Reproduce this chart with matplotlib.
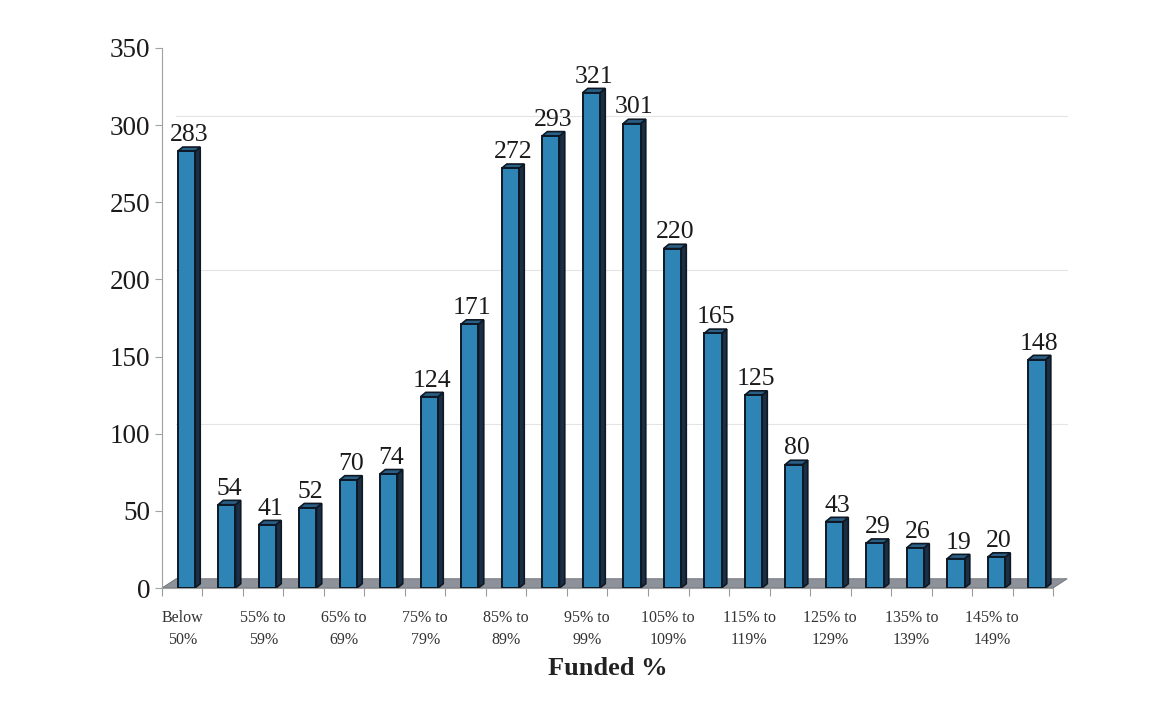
import numpy as np
import matplotlib.pyplot as plt
from matplotlib.patches import Polygon

plt.rcParams['font.family'] = ['Liberation Serif', 'DejaVu Serif']

# data
categories = ['Below\n50%', '50% to\n54%', '55% to\n59%', '60% to\n64%', '65% to\n69%',
              '70% to\n74%', '75% to\n79%', '80% to\n84%', '85% to\n89%', '90% to\n94%',
              '95% to\n99%', '100% to\n104%', '105% to\n109%', '110% to\n114%',
              '115% to\n119%', '120% to\n124%', '125% to\n129%', '130% to\n134%',
              '135% to\n139%', '140% to\n144%', '145% to\n149%', '150% and\nabove']
counts = [283, 54, 41, 52, 70, 74, 124, 171, 272, 293, 321, 301,
          220, 165, 125, 80, 43, 29, 26, 19, 20, 148]
yticks = [0, 50, 100, 150, 200, 250, 300, 350]
gridvals = [100, 200, 300]

front = '#2f84b6'
side = '#1b2f44'
top = '#2a5f86'
edge = '#0e1824'

fig = plt.figure(figsize=(11.51, 7.13), dpi=100)
ax = fig.add_axes([0.1407, 0.1753, 0.7742, 0.7574])

x = np.arange(len(counts))
n = len(counts)
w = 0.43
off = 0.1           # shift of front face
dx, dy = 0.13, 2.8  # bar depth
bdx, bdy = 0.35, 6.0  # back wall depth

# floor
floor = Polygon([(-0.5, 0), (n - 0.5, 0), (n - 0.5 + bdx, bdy), (-0.5 + bdx, bdy)],
                closed=True, facecolor='#8d9199', edgecolor='#6d7078', lw=0.6,
                clip_on=False, zorder=1)
ax.add_patch(floor)

# back grid lines
for g in gridvals:
    ax.plot([-0.5 + bdx, n - 0.5 + bdx], [g + bdy, g + bdy], color='#e4e4e4',
            lw=0.8, zorder=0.5, clip_on=False)

for xi, v in zip(x, counts):
    l = xi + off - w / 2
    r = xi + off + w / 2
    ax.add_patch(Polygon([(r, 0), (r + dx, dy), (r + dx, v + dy), (r, v)],
                         facecolor=side, edgecolor=edge, lw=1.2, zorder=2))
    ax.add_patch(Polygon([(l, v), (r, v), (r + dx, v + dy), (l + dx, v + dy)],
                         facecolor=top, edgecolor=edge, lw=1.2, zorder=2))
    ax.text(xi + off + dx / 2, v + dy + 0.5, str(v), ha='center', va='bottom',
            fontsize=18.5, color='#1a1a1a', zorder=4)

ax.bar(x + off, counts, width=w, color=front, edgecolor=edge, linewidth=1.4, zorder=3)

ax.set_xlim(-0.5, n - 0.5)
ax.set_ylim(0, 350)
ax.set_yticks(yticks)
ax.tick_params(axis='y', labelsize=19.5, length=5, color='#9aa7a7', labelcolor='#1a1a1a')

ax.set_xticks(np.arange(-0.5, n, 1.0))
ax.set_xticklabels([])
ax.tick_params(axis='x', which='major', length=6, color='#9a9a9a')
ax.set_xticks(x[::2], minor=True)
ax.set_xticklabels(categories[::2], minor=True, fontsize=11.5, linespacing=1.45,
                   color='#333333')
ax.tick_params(axis='x', which='minor', length=0, pad=16)

for s in ['top', 'right']:
    ax.spines[s].set_visible(False)
ax.spines['left'].set_color('#a0a0a0')
ax.spines['bottom'].set_color('#a0a0a0')

ax.set_xlabel('Funded %', fontsize=19, fontweight='bold', labelpad=7, color='#222222')

fig.savefig('out.png', dpi=100)
